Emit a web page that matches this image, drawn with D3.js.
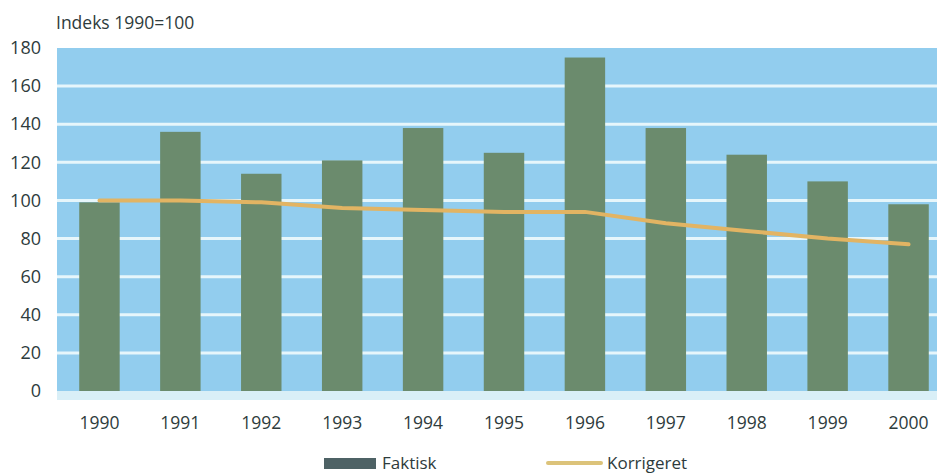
<!DOCTYPE html>
<html>
<head>
<meta charset="utf-8">
<script src="https://cdn.jsdelivr.net/npm/d3@7"></script>
<style>
  html, body { margin: 0; padding: 0; background: #ffffff; }
  svg { display: block; }
  text { font-family: "Open Sans", "Noto Sans", sans-serif; fill: #2e3b3c; font-weight: 500; }
</style>
</head>
<body>
<svg id="chart" width="937" height="474"></svg>
<script>
// Index values, 1990 = 100
const years = ["1990", "1991", "1992", "1993", "1994", "1995", "1996", "1997", "1998", "1999", "2000"];
const faktisk = [99, 136, 114, 121, 138, 125, 175, 138, 124, 110, 98];
const korrigeret = [100, 100, 99, 96, 95, 94, 94, 88, 84, 80, 77];
const yTicks = [0, 20, 40, 60, 80, 100, 120, 140, 160, 180];
const yTitle = "Indeks 1990=100";
const legendLabels = ["Faktisk", "Korrigeret"];

const svg = d3.select("#chart");

const plot = { left: 57, right: 937, top: 48, bottom: 391 };

const x = d3.scaleBand()
  .domain(years)
  .range([59, 949])
  .paddingInner(0.5)
  .paddingOuter(0.25);

const y = d3.scaleLinear()
  .domain([0, 180])
  .range([plot.bottom, plot.top]);

// plot background
svg.append("rect")
  .attr("x", plot.left).attr("y", plot.top)
  .attr("width", plot.right - plot.left).attr("height", plot.bottom - plot.top)
  .attr("fill", "#92cdee");

// pale strip under the baseline
svg.append("rect")
  .attr("x", plot.left).attr("y", plot.bottom)
  .attr("width", plot.right - plot.left).attr("height", 9)
  .attr("fill", "#d9eff7");

// light gridlines
svg.append("g")
  .selectAll("line")
  .data(yTicks.filter(d => d > 0 && d < 180))
  .join("line")
  .attr("x1", plot.left).attr("x2", plot.right)
  .attr("y1", d => y(d)).attr("y2", d => y(d))
  .attr("stroke", "#e6f6fb")
  .attr("stroke-width", 3);

// y axis labels
const yAxis = d3.axisLeft(y).tickValues(yTicks).tickSize(0).tickPadding(0);
const gy = svg.append("g")
  .attr("transform", "translate(41,0)")
  .call(yAxis);
gy.select(".domain").remove();
gy.selectAll("text")
  .attr("font-size", 18)
  .attr("fill", "#2e3b3c")
  .style("font-family", "'Open Sans', sans-serif")
  .style("font-weight", 500);

// axis title
svg.append("text")
  .attr("x", 56).attr("y", 29)
  .attr("font-size", 17.5)
  .text(yTitle);

// bars
svg.append("g")
  .selectAll("rect")
  .data(years.map((yr, i) => ({ yr, v: faktisk[i] })))
  .join("rect")
  .attr("x", d => x(d.yr))
  .attr("y", d => y(d.v))
  .attr("width", x.bandwidth())
  .attr("height", d => y(0) - y(d.v))
  .attr("fill", "#6b8b6d");

// corrected series line
const line = d3.line()
  .x((d, i) => x(years[i]) + x.bandwidth() / 2)
  .y(d => y(d));

svg.append("path")
  .datum(korrigeret)
  .attr("d", line)
  .attr("fill", "none")
  .attr("stroke", "#e2b463")
  .attr("stroke-width", 4)
  .attr("stroke-linecap", "round")
  .attr("stroke-linejoin", "round");

// x axis labels
const xAxis = d3.axisBottom(x).tickSize(0).tickPadding(0);
const gx = svg.append("g")
  .attr("transform", "translate(0,417)")
  .call(xAxis);
gx.select(".domain").remove();
gx.selectAll("text")
  .attr("font-size", 17.5)
  .attr("fill", "#2e3b3c")
  .style("font-family", "'Open Sans', sans-serif")
  .style("font-weight", 500);

// legend
const lg = svg.append("g");
lg.append("rect")
  .attr("x", 324).attr("y", 458)
  .attr("width", 52).attr("height", 11)
  .attr("fill", "#4e6265");
lg.append("text")
  .attr("x", 382).attr("y", 469)
  .attr("font-size", 17)
  .text(legendLabels[0]);
lg.append("line")
  .attr("x1", 548).attr("x2", 601)
  .attr("y1", 463).attr("y2", 463)
  .attr("stroke", "#dcc37a")
  .attr("stroke-width", 4)
  .attr("stroke-linecap", "round");
lg.append("text")
  .attr("x", 607).attr("y", 469)
  .attr("font-size", 17)
  .attr("fill", "#4a3245")
  .text(legendLabels[1]);
</script>
</body>
</html>
